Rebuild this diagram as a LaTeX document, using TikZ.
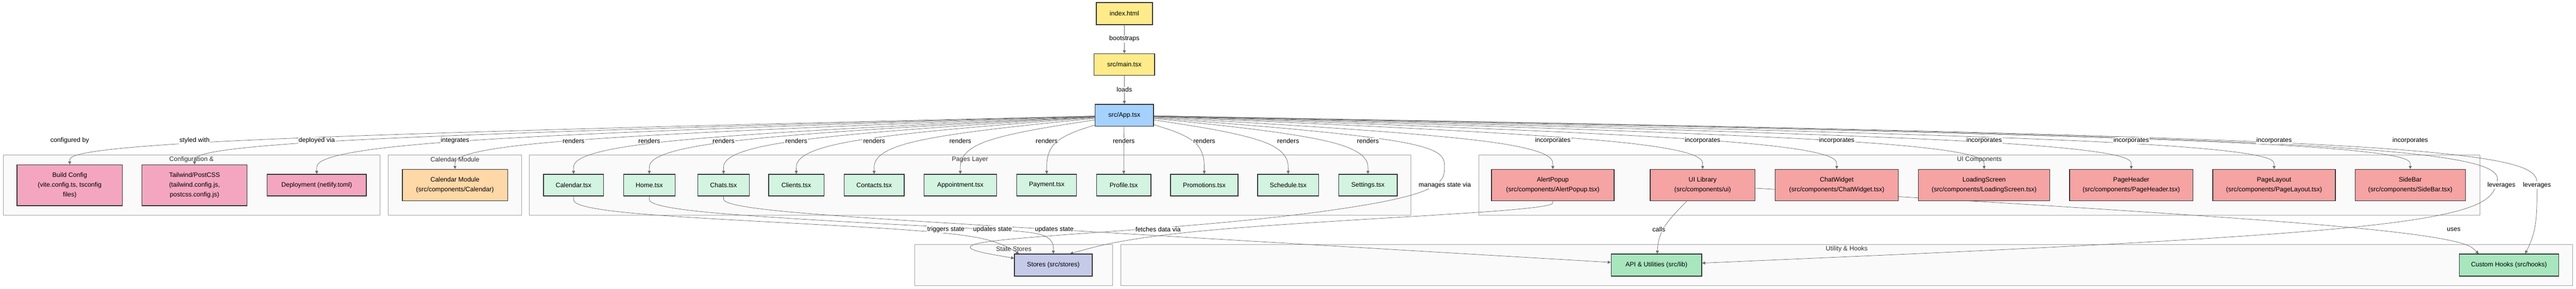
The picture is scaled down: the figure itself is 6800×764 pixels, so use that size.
\documentclass[tikz,border=0pt]{standalone}
\usepackage{fontspec}
\setmainfont{Liberation Sans}
\usetikzlibrary{calc,arrows.meta}
\pgfdeclarelayer{bg}
\pgfdeclarelayer{edges}
\pgfsetlayers{bg,edges,main}
\definecolor{edgecol}{HTML}{6B6B6B}
\definecolor{nodeline}{HTML}{333333}
\definecolor{clufill}{HTML}{FAFAFA}
\definecolor{cluline}{HTML}{A0A0A0}
\definecolor{titlecol}{HTML}{333333}
\definecolor{entryfill}{HTML}{FFEB8A}
\definecolor{appfill}{HTML}{A5D1FF}
\definecolor{cfgfill}{HTML}{F4A6C0}
\definecolor{calfill}{HTML}{FFD8A8}
\definecolor{pagefill}{HTML}{D3F4E1}
\definecolor{uifill}{HTML}{F5A3A3}
\definecolor{storefill}{HTML}{C5CAE9}
\definecolor{utilfill}{HTML}{A8E6BE}
\newcommand\dgnodefont{\fontsize{17pt}{25.5pt}\selectfont}
\newcommand\dglabfont{\fontsize{17pt}{20pt}\selectfont}
\tikzset{
  box/.style={draw=nodeline, line width=2pt, align=center, inner sep=0pt, font=\dgnodefont, text=black},
  entrybox/.style={box, fill=entryfill, minimum height=57pt},
  appbox/.style={box, fill=appfill, minimum height=58pt},
  cfgbox/.style={box, fill=cfgfill},
  calbox/.style={box, fill=calfill, minimum height=83pt},
  pagebox/.style={box, fill=pagefill, minimum height=57pt},
  uibox/.style={box, fill=uifill, minimum height=83pt},
  storebox/.style={box, fill=storefill, minimum height=58pt},
  utilbox/.style={box, fill=utilfill, minimum height=58pt},
  edge/.style={draw=edgecol, line width=1pt, -{Triangle[length=8pt,width=8pt]}},
  lab/.style={fill=white, inner sep=1.5pt, font=\dglabfont, text=black},
  clus/.style={draw=cluline, fill=clufill, line width=1pt},
  ctitle/.style={font=\dglabfont, text=titlecol, inner sep=0pt}
}
% B-spline (basis) edges through way points
\newcommand\eThree[4][]{%
  \coordinate (c1) at (#3);
  \path (c1) -- coordinate[pos=1] (c0) (#2);
  \path (c1) -- coordinate[pos=1] (c2) (#4);
  \draw[edge,#1] (c0) -- ($0.833333*(c0)+0.166667*(c1)$)
   .. controls ($0.666667*(c0)+0.333333*(c1)$) and ($0.333333*(c0)+0.666667*(c1)$) .. ($0.166667*(c0)+0.666667*(c1)+0.166667*(c2)$)
   .. controls ($0.666667*(c1)+0.333333*(c2)$) and ($0.333333*(c1)+0.666667*(c2)$) .. ($0.166667*(c1)+0.833333*(c2)$) -- (c2);}
\newcommand\eFour[5][]{%
  \coordinate (c1) at (#3); \coordinate (c2) at (#4);
  \path (c1) -- coordinate[pos=1] (c0) (#2);
  \path (c2) -- coordinate[pos=1] (c3) (#5);
  \draw[edge,#1] (c0) -- ($0.833333*(c0)+0.166667*(c1)$)
   .. controls ($0.666667*(c0)+0.333333*(c1)$) and ($0.333333*(c0)+0.666667*(c1)$) .. ($0.166667*(c0)+0.666667*(c1)+0.166667*(c2)$)
   .. controls ($0.666667*(c1)+0.333333*(c2)$) and ($0.333333*(c1)+0.666667*(c2)$) .. ($0.166667*(c1)+0.666667*(c2)+0.166667*(c3)$)
   .. controls ($0.666667*(c2)+0.333333*(c3)$) and ($0.333333*(c2)+0.666667*(c3)$) .. ($0.166667*(c2)+0.833333*(c3)$) -- (c3);}
\newcommand\eFive[6][]{%
  \coordinate (c1) at (#3); \coordinate (c2) at (#4); \coordinate (c3) at (#5);
  \path (c1) -- coordinate[pos=1] (c0) (#2);
  \path (c3) -- coordinate[pos=1] (c4) (#6);
  \draw[edge,#1] (c0) -- ($0.833333*(c0)+0.166667*(c1)$)
   .. controls ($0.666667*(c0)+0.333333*(c1)$) and ($0.333333*(c0)+0.666667*(c1)$) .. ($0.166667*(c0)+0.666667*(c1)+0.166667*(c2)$)
   .. controls ($0.666667*(c1)+0.333333*(c2)$) and ($0.333333*(c1)+0.666667*(c2)$) .. ($0.166667*(c1)+0.666667*(c2)+0.166667*(c3)$)
   .. controls ($0.666667*(c2)+0.333333*(c3)$) and ($0.333333*(c2)+0.666667*(c3)$) .. ($0.166667*(c2)+0.666667*(c3)+0.166667*(c4)$)
   .. controls ($0.666667*(c3)+0.333333*(c4)$) and ($0.333333*(c3)+0.666667*(c4)$) .. ($0.166667*(c3)+0.833333*(c4)$) -- (c4);}
\newcommand\eSeven[8][]{%
  \coordinate (c1) at (#3); \coordinate (c2) at (#4); \coordinate (c3) at (#5);
  \coordinate (c4) at (#6); \coordinate (c5) at (#7);
  \path (c1) -- coordinate[pos=1] (c0) (#2);
  \path (c5) -- coordinate[pos=1] (c6) (#8);
  \draw[edge,#1] (c0) -- ($0.833333*(c0)+0.166667*(c1)$)
   .. controls ($0.666667*(c0)+0.333333*(c1)$) and ($0.333333*(c0)+0.666667*(c1)$) .. ($0.166667*(c0)+0.666667*(c1)+0.166667*(c2)$)
   .. controls ($0.666667*(c1)+0.333333*(c2)$) and ($0.333333*(c1)+0.666667*(c2)$) .. ($0.166667*(c1)+0.666667*(c2)+0.166667*(c3)$)
   .. controls ($0.666667*(c2)+0.333333*(c3)$) and ($0.333333*(c2)+0.666667*(c3)$) .. ($0.166667*(c2)+0.666667*(c3)+0.166667*(c4)$)
   .. controls ($0.666667*(c3)+0.333333*(c4)$) and ($0.333333*(c3)+0.666667*(c4)$) .. ($0.166667*(c3)+0.666667*(c4)+0.166667*(c5)$)
   .. controls ($0.666667*(c4)+0.333333*(c5)$) and ($0.333333*(c4)+0.666667*(c5)$) .. ($0.166667*(c4)+0.666667*(c5)+0.166667*(c6)$)
   .. controls ($0.666667*(c5)+0.333333*(c6)$) and ($0.333333*(c5)+0.666667*(c6)$) .. ($0.166667*(c5)+0.833333*(c6)$) -- (c6);}
\begin{document}
\begin{tikzpicture}[x=1pt,y=-1pt]
\useasboundingbox (0,0) rectangle (6800,764);
% ---------- background and clusters ----------
\begin{pgfonlayer}{bg}
\fill[white] (0,0) rectangle (6800,764);
\draw[clus] (8,410) rectangle (1003,569);
\draw[clus] (1025,410) rectangle (1377,569);
\draw[clus] (1397,410) rectangle (3724,569);
\draw[clus] (3904,410) rectangle (6546,569);
\draw[clus] (2415,647) rectangle (2937,755);
\draw[clus] (2959,647) rectangle (6791,755);
\node[ctitle] (tcfg) at (505.5,422) {Configuration \&};
\node[ctitle] (tcal) at (1201,422) {Calendar Module};
\node[ctitle] (tpages) at (2560.5,422) {Pages Layer};
\node[ctitle] (tui) at (5225,422) {UI Components};
\node[ctitle] (tstore) at (2676,659) {State Stores};
\node[ctitle] (tutil) at (4875,659) {Utility \& Hooks};
\end{pgfonlayer}
% ---------- nodes ----------
\node[entrybox, minimum width=148pt, minimum height=58pt] (index) at (2968,36) {index.html};
\node[entrybox, minimum width=160pt] (main) at (2968,170.5) {src/main.tsx};
\node[appbox, minimum width=154pt] (app) at (2968,305) {src/App.tsx};
\node[cfgbox, minimum width=278pt, minimum height=108pt] (build) at (184,490) {Build Config\\(vite.config.ts, tsconfig\\files)};
\node[cfgbox, minimum width=277pt, minimum height=108pt] (tailwind) at (513.5,490) {Tailwind/PostCSS\\(tailwind.config.js,\\postcss.config.js)};
\node[cfgbox, minimum width=262pt, minimum height=57pt] (deploy) at (836,489.5) {Deployment (netlify.toml)};
\node[calbox, minimum width=278pt] (calmod) at (1201,489.5) {Calendar Module\\(src/components/Calendar)};
\node[pagebox, minimum width=158pt] (calendar) at (1514,489.5) {Calendar.tsx};
\node[pagebox, minimum width=136pt] (home) at (1714,489.5) {Home.tsx};
\node[pagebox, minimum width=136pt] (chats) at (1910,489.5) {Chats.tsx};
\node[pagebox, minimum width=146pt] (clients) at (2102,489.5) {Clients.tsx};
\node[pagebox, minimum width=159pt] (contacts) at (2307.5,489.5) {Contacts.tsx};
\node[pagebox, minimum width=192pt] (appoint) at (2535,489.5) {Appointment.tsx};
\node[pagebox, minimum width=158pt] (payment) at (2763,489.5) {Payment.tsx};
\node[pagebox, minimum width=143pt] (profile) at (2966.5,489.5) {Profile.tsx};
\node[pagebox, minimum width=178pt] (promo) at (3179,489.5) {Promotions.tsx};
\node[pagebox, minimum width=161pt] (sched) at (3400.5,489.5) {Schedule.tsx};
\node[pagebox, minimum width=154pt] (settings) at (3611,489.5) {Settings.tsx};
\node[uibox, minimum width=324pt] (alert) at (4099,489.5) {AlertPopup\\(src/components/AlertPopup.tsx)};
\node[uibox, minimum width=277pt] (uilib) at (4494.5,489.5) {UI Library\\(src/components/ui)};
\node[uibox, minimum width=325pt] (chatw) at (4848.5,489.5) {ChatWidget\\(src/components/ChatWidget.tsx)};
\node[uibox, minimum width=347pt] (loading) at (5237.5,489.5) {LoadingScreen\\(src/components/LoadingScreen.tsx)};
\node[uibox, minimum width=326pt] (pheader) at (5626,489.5) {PageHeader\\(src/components/PageHeader.tsx)};
\node[uibox, minimum width=324pt] (playout) at (6003,489.5) {PageLayout\\(src/components/PageLayout.tsx)};
\node[uibox, minimum width=291pt] (sidebar) at (6362.5,489.5) {SideBar\\(src/components/SideBar.tsx)};
\node[storebox, minimum width=205pt] (stores) at (2780.5,701) {Stores (src/stores)};
\node[utilbox, minimum width=239pt] (api) at (4372.5,701) {API \& Utilities (src/lib)};
\node[utilbox, minimum width=262pt] (hooks) at (6623,701) {Custom Hooks (src/hooks)};
% ---------- edges ----------
\begin{pgfonlayer}{edges}
\draw[edge] (index) -- (main);
\draw[edge] (main) -- (app);
\foreach \t/\x in {build/184,tailwind/513.5,deploy/836,calmod/1201,calendar/1514,home/1714,chats/1910,clients/2102,contacts/2307.5,appoint/2535,payment/2763,profile/2966.5,promo/3179,sched/3400.5,settings/3611,alert/4099,uilib/4494.5,chatw/4848.5,loading/5237.5,pheader/5626,playout/6003,sidebar/6362.5}
  {\eThree{app}{\x,372}{\t}}
\eSeven{app}{3813,372}{3813,440}{3813,520}{3200,600}{2430,640}{[yshift=18pt]stores.west}
\eFive{app}{6603,372}{6603,490}{6520,607}{api}
\eFive{app}{6697,372}{6697,490}{6697,607}{[xshift=43pt]hooks.north}
\eFive{calendar.south}{1514,565}{2497,607}{2640,640}{[xshift=13pt]stores.north west}
\eFive{home.south}{1714,560}{2620,607}{2782,615}{stores.north}
\eFour{chats.south}{1910,555}{2783,607}{api}
\eFour{alert.south}{4099,555}{3057,607}{[xshift=44pt]stores.north}
\eThree{uilib}{4379,607}{api}
\eThree{uilib}{6477,607}{[xshift=-80pt]hooks.north}
\end{pgfonlayer}
% ---------- edge labels ----------
\node[lab] (lboot) at (2968,103) {bootstraps};
\node[lab] (lloads) at (2968,237) {loads};
\node[lab] (lbuild) at (184,372) {configured by};
\node[lab] (ltail) at (513.5,372) {styled with};
\node[lab] (ldeploy) at (836,372) {deployed via};
\node[lab] (lcalmod) at (1201,372) {integrates};
\foreach \t/\x in {calendar/1514,home/1714,chats/1910,clients/2102,contacts/2307.5,appoint/2535,payment/2763,profile/2966.5,promo/3179,sched/3400.5,settings/3611}
  {\node[lab] (l\t) at (\x,372) {renders};}
\foreach \t/\x in {alert/4099,uilib/4494.5,chatw/4848.5,loading/5237.5,pheader/5626,playout/6003,sidebar/6362.5}
  {\node[lab] (l\t) at (\x,372) {incorporates};}
\node[lab] (lmanage) at (3814,490) {manages state via};
\node[lab] (llevapi) at (6603,490) {leverages};
\node[lab] (llevhook) at (6697,490) {leverages};
\node[lab] (ltrig) at (2497,607) {triggers state};
\node[lab] (lupd1) at (2620,607) {updates state};
\node[lab] (lupd2) at (2783,607) {updates state};
\node[lab] (lfetch) at (3057,607) {fetches data via};
\node[lab] (lcalls) at (4379,607) {calls};
\node[lab] (luses) at (6477,607) {uses};
\end{tikzpicture}
\end{document}
